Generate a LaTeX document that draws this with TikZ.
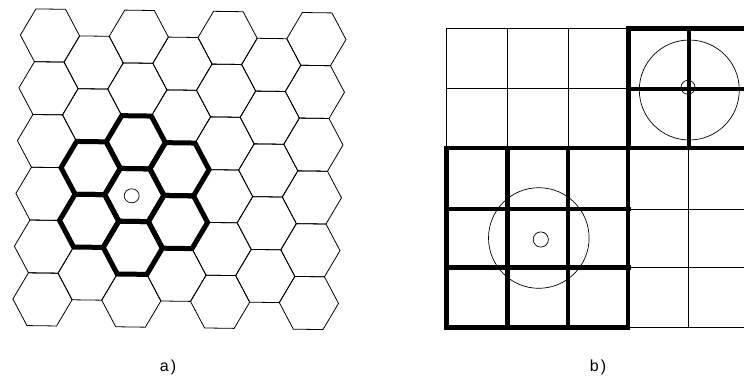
\documentclass[tikz,border=0pt]{standalone}
\usepackage{fontspec}
\setmainfont{Liberation Sans}
\begin{document}
\begin{tikzpicture}[x=1pt,y=-1pt,
  thinln/.style={line width=0.8pt, line join=miter},
  boldln/.style={line width=4.5pt, line join=miter},
  hexbold/.style={line width=5pt, line join=miter},
  circln/.style={line width=0.7pt},
  lbl/.style={font=\fontsize{16}{18}\selectfont, inner sep=0pt}]
\useasboundingbox (0,0) rectangle (744,378);
\newcommand{\hexpath}[2]{(#1+1,#2) -- (#1+0.5,#2+0.866) -- (#1-0.5,#2+0.866) -- (#1-1,#2) -- (#1-0.5,#2-0.866) -- (#1+0.5,#2-0.866) -- cycle}
% ---------- a) hexagonal grid ----------
\begin{scope}[shift={(50,35.5)}]
\begin{scope}[x={(29.6pt,-0.4pt)}, y={(0.866pt,30.47pt)}]
  \foreach \i in {0,2,4,6} {
    \foreach \j in {0,...,5} {
      \pgfmathsetmacro\hu{1.5*\i}
      \pgfmathsetmacro\hv{-1.7320508*\j}
      \draw[thinln] \hexpath{\hu}{\hv};
    }
  }
  \foreach \i in {1,3,5} {
    \foreach \j in {0,...,4} {
      \pgfmathsetmacro\hu{1.5*\i}
      \pgfmathsetmacro\hv{-1.7320508*(\j+0.5)}
      \draw[thinln] \hexpath{\hu}{\hv};
    }
  }
  \foreach \hu/\hv in {3/-5.196, 3/-3.464, 3/-6.928, 1.5/-4.330, 1.5/-6.062, 4.5/-4.330, 4.5/-6.062} {
    \draw[hexbold] \hexpath{\hu}{\hv};
  }
\end{scope}
\end{scope}
\draw[circln] (131.7,195.8) ellipse [x radius=7.5, y radius=7];
% ---------- b) square grid ----------
% thin parts
\draw[thinln] (446.7,28.3) -- (628.3,28.3);
\draw[thinln] (446.7,88.3) -- (628.3,88.3);
\draw[thinln] (446.7,28.3) -- (446.7,148.2);
\draw[thinln] (507.5,28.3) -- (507.5,148.2);
\draw[thinln] (568,28.3) -- (568,148.2);
\draw[thinln] (628.3,209.2) -- (744,209.2);
\draw[thinln] (628.3,267.5) -- (744,267.5);
\draw[thinln] (628.3,327.5) -- (744,327.5);
\draw[thinln] (688.5,148.2) -- (688.5,327.5);
% bold lower-left block
\draw[boldln] (446.7,148.2) rectangle (628,327.5);
\draw[boldln] (507.5,148.2) -- (507.5,327.5);
\draw[boldln] (568,148.2) -- (568,327.5);
\draw[boldln] (446.7,209.2) -- (630.5,209.2);
\draw[boldln] (446.7,267.5) -- (630.5,267.5);
% bold upper-right block
\draw[boldln] (746,28.3) -- (628.3,28.3) -- (628.3,148.2) -- (746,148.2);
\draw[boldln] (689,28.3) -- (689,148.2);
\draw[boldln] (628.3,88.8) -- (746,88.8);
% circles
\draw[circln] (689.3,90) circle [radius=50];
\draw[circln] (688,87.3) circle [radius=7];
\draw[circln] (538.8,238) circle [radius=50.3];
\draw[circln] (540.8,239.5) circle [radius=7.6];
% labels
\node[lbl] (la) at (168,367) {a\kern2pt)};
\node[lbl] (lb) at (598,367) {b\kern2pt)};
\end{tikzpicture}
\end{document}
